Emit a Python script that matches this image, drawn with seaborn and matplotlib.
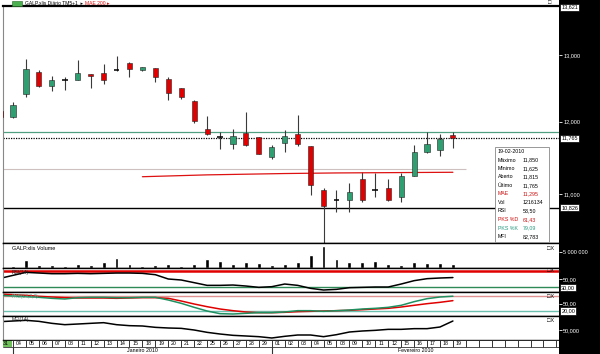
import numpy as np
import pandas as pd
import matplotlib
matplotlib.use("Agg")
import matplotlib.pyplot as plt
import seaborn as sns
from matplotlib.patches import Rectangle
from matplotlib.transforms import blended_transform_factory
from matplotlib.ticker import NullLocator

# ---------------- data ----------------
day_labels = ["31", "04", "05", "06", "07", "08", "11", "12", "13", "14", "15", "18", "19",
              "20", "21", "22", "25", "26", "27", "28", "29", "01", "02", "03", "04", "05",
              "08", "09", "10", "11", "12", "15", "16", "17", "18", "19"]
opens = [12.15, 12.07, 12.41, 12.74, 12.52, 12.62, 12.62, 12.70, 12.72, 12.77, 12.88, 12.77,
         12.80, 12.63, 12.49, 12.30, 11.89, 11.78, 11.69, 11.84, 11.78, 11.51, 11.70, 11.83,
         11.66, 11.06, 10.92, 10.92, 11.20, 11.06, 11.09, 10.96, 11.25, 11.57, 11.60, 11.815]
highs = [12.20, 12.29, 12.94, 12.77, 12.68, 12.66, 12.92, 12.70, 12.86, 12.98, 12.89, 12.82,
         12.80, 12.66, 12.50, 12.31, 12.08, 11.86, 11.90, 12.14, 11.78, 11.67, 11.88, 12.10,
         11.66, 11.08, 11.06, 11.15, 11.30, 11.28, 11.20, 11.28, 11.67, 11.85, 11.82, 11.85]
lows = [12.05, 12.06, 12.36, 12.51, 12.45, 12.47, 12.61, 12.50, 12.55, 12.76, 12.66, 12.76,
        12.58, 12.32, 12.33, 11.98, 11.81, 11.61, 11.61, 11.65, 11.54, 11.47, 11.57, 11.65,
        10.99, 10.38, 10.77, 10.77, 10.90, 10.97, 10.91, 10.90, 11.24, 11.56, 11.52, 11.625]
closes = [12.07, 12.24, 12.78, 12.52, 12.61, 12.62, 12.72, 12.67, 12.62, 12.77, 12.78, 12.81,
          12.66, 12.42, 12.36, 12.01, 11.82, 11.78, 11.79, 11.67, 11.55, 11.64, 11.80, 11.69,
          11.12, 10.85, 10.92, 11.03, 10.93, 11.06, 10.92, 11.25, 11.57, 11.69, 11.76, 11.765]
volume = [540000, 2660000, 960000, 960000, 640000, 1180000, 860000, 2020000, 3300000, 1380000,
          640000, 960000, 1180000, 740000, 1380000, 2980000, 2340000, 1180000, 2020000, 1600000,
          1060000, 1180000, 2020000, 4260000, 6940000, 2880000, 2020000, 2020000, 2140000,
          1280000, 860000, 1920000, 1700000, 1700000, 1216134]
rsi = [51.5, 58.8, 66.0, 64.4, 62.8, 62.8, 63.6, 62.8, 63.6, 64.4, 64.4, 63.6, 60.4, 50.0, 47.6,
       41.2, 34.7, 34.7, 35.5, 33.1, 29.9, 31.5, 37.9, 34.7, 27.5, 23.5, 25.1, 29.1, 29.9, 30.7,
       30.7, 37.9, 46.0, 50.8, 52.4, 53.5]
pks_k = [82.7, 80, 77.3, 74.7, 70.7, 68, 73.3, 74.7, 74.7, 73.3, 73.3, 74.7, 74.7, 64, 50.7, 34.7,
         20, 9.3, 8, 10.7, 13.3, 13.3, 16, 21.3, 21.3, 18.7, 21.3, 24, 28, 30.7, 34.7, 42.7, 57.3,
         69.3, 76, 79.09]
pks_d = [88, 85.3, 82.7, 78.7, 76, 73.3, 72, 72, 72, 70.7, 72, 73.3, 73.3, 70.7, 60, 48, 37.3, 28,
         21.3, 16, 13.3, 13.3, 14.7, 17.3, 18.7, 20, 21.3, 22.7, 25.3, 28, 30.7, 36, 42.7, 49.3,
         54.7, 61.43]
mfi = [80.3, 82.8, 85.2, 81.5, 74.3, 69.4, 71.8, 74.3, 76.7, 69.4, 65.8, 64.6, 59.7, 57.3, 56, 50,
       41.5, 35.4, 30.6, 28.2, 25.7, 20.9, 27, 31.8, 31.8, 25.7, 33, 42.7, 46.4, 48.8, 52.4, 52.4,
       54.9, 54.9, 60.9, 82.78]
mae = [11.235, 11.240, 11.245, 11.250, 11.255, 11.260, 11.263, 11.266, 11.269, 11.272, 11.275,
       11.278, 11.280, 11.282, 11.284, 11.286, 11.287, 11.288, 11.289, 11.290, 11.291, 11.292,
       11.293, 11.294, 11.295]
info_rows = [("Máximo", "11,850", "black"), ("Mínimo", "11,625", "black"),
             ("Aberto", "11,815", "black"), ("Último", "11,765", "black"),
             ("MAE", "11,295", "#cc1111"), ("Vol", "1216134", "black"),
             ("RSI", "53,50", "black"), ("PKS %D", "61,43", "#cc1111"),
             ("PKS %K", "79,09", "#2a9a80"), ("MFI", "82,783", "black")]

xs = np.arange(-1, 35)
vol_x = np.arange(0, 35)
mae_x = np.arange(10, 35)

# ---------------- figure ----------------
sns.set_theme(style="white")
plt.rcParams['font.family'] = ['Liberation Sans', 'DejaVu Sans']

W, H = 600, 354
fig = plt.figure(figsize=(6, 3.54), dpi=100, facecolor="white")
XMIN, XMAX = -0.775, 42.2
RIGHT = 559


def add_ax(t, b, l=3, r=RIGHT):
    return fig.add_axes([l / W, 1 - b / H, (r - l) / W, (b - t) / H])


def ftxt(x, y, s, **kw):
    kw.setdefault("fontsize", 4)
    kw.setdefault("va", "center")
    return fig.text(x / W, 1 - y / H, s, **kw)


fig.add_artist(Rectangle((RIGHT / W, 0), 1 - RIGHT / W, 1, transform=fig.transFigure,
                         facecolor="black", edgecolor="none", zorder=-1))

ax_main = add_ax(6, 243)
ax_vol = add_ax(243, 268)
ax_rsi = add_ax(268, 292)
ax_st = add_ax(292, 316)
ax_mfi = add_ax(316, 340)
ax_d = add_ax(340, 354)

for ax in (ax_main, ax_vol, ax_rsi, ax_st, ax_mfi):
    ax.set_facecolor("white")
    ax.set_xlim(XMIN, XMAX)
    ax.set_xticks([])
    for s in ("top", "bottom"):
        ax.spines[s].set_color("black")
        ax.spines[s].set_linewidth(1.0)
    ax.spines["left"].set_color("#888888")
    ax.spines["left"].set_linewidth(0.8)
    ax.spines["right"].set_visible(False)
    ax.yaxis.tick_right()
    ax.tick_params(axis="y", colors="white", labelcolor="white", labelsize=4, length=2,
                   width=0.6, pad=1, direction="out", right=True, left=False)
ax_main.spines["top"].set_linewidth(1.6)


def boxed(ax, val, s, yfrac=False):
    tr = blended_transform_factory(ax.transAxes, ax.transAxes if yfrac else ax.transData)
    ax.text(1.004, val, s, transform=tr, fontsize=4, color="black", va="center", ha="left",
            clip_on=False, zorder=10,
            bbox=dict(boxstyle="square,pad=0.2", fc="white", ec="black", lw=0.5))


# ---- main candlestick panel ----
ax_main.set_yscale("log")
ax_main.set_ylim(10.377, 13.786)
up_c, dn_c = "#2f9e70", "#e00000"
for x, o, h, l, c in zip(xs, opens, highs, lows, closes):
    ax_main.vlines(x, l, h, color="#3a3a3a", lw=0.8, zorder=2)
    if abs(c - o) < 0.003:
        ax_main.hlines(o, x - 0.22, x + 0.22, color="black", lw=1.1, zorder=3)
    else:
        col = up_c if c > o else dn_c
        ax_main.bar(x, abs(c - o), bottom=min(o, c), width=0.4, color=col,
                    edgecolor="#222222", linewidth=0.4, zorder=3)
ax_main.axhline(11.85, color="#4f9f80", lw=0.9, zorder=1)
ax_main.axhline(11.765, color="black", lw=0.9, ls=(0, (1, 1)), zorder=1)
ax_main.axhline(10.826, color="black", lw=1.0, zorder=1)
ax_main.hlines(11.34, XMIN, 35, color="#cfc0c0", lw=0.8, zorder=1)
sns.lineplot(x=mae_x, y=mae, ax=ax_main, color="#dd1111", lw=0.9, zorder=2)
ax_main.set_yticks([11, 12, 13])
ax_main.set_yticklabels(["11,000", "12,000", "13,000"])
ax_main.yaxis.set_minor_locator(NullLocator())
ax_main.set_xlabel("")
ax_main.set_ylabel("")
ax_main.set_xlim(XMIN, XMAX)
boxed(ax_main, 0.995, "13,621", yfrac=True)
boxed(ax_main, 11.765, "11,765")
boxed(ax_main, 10.826, "10,826")

# ---- volume panel ----
sns.barplot(x=vol_x, y=volume, native_scale=True, color="black", width=0.3,
            errorbar=None, ax=ax_vol, saturation=1)
ax_vol.set_xlim(XMIN, XMAX)
ax_vol.set_ylim(0, 8.0e6)
ax_vol.set_xticks([])
ax_vol.set_yticks([5e6])
ax_vol.set_yticklabels(["5 000 000"])
ax_vol.set_xlabel("")
ax_vol.set_ylabel("")

# ---- RSI panel ----
ax_rsi.axhline(70, color="#e00000", lw=1.8, zorder=1)
ax_rsi.axhline(30, color="#2e8b57", lw=1.0, zorder=1)
sns.lineplot(x=xs, y=rsi, ax=ax_rsi, color="black", lw=1.1, zorder=2)
ax_rsi.set_ylim(18.7, 76.5)
ax_rsi.set_yticks([50])
ax_rsi.set_yticklabels(["50,00"])
boxed(ax_rsi, 30, "30,00")

# ---- stochastic panel ----
ax_st.axhline(80, color="#e09090", lw=1.0, zorder=1)
ax_st.axhline(20, color="#6cc0b0", lw=1.0, zorder=1)
sns.lineplot(x=xs, y=pks_d, ax=ax_st, color="#e00000", lw=1.1, zorder=2)
sns.lineplot(x=xs, y=pks_k, ax=ax_st, color="#1f8f60", lw=1.1, zorder=3)
ax_st.set_ylim(0, 96)
ax_st.set_yticks([50])
ax_st.set_yticklabels(["50,00"])
boxed(ax_st, 20, "20,00")

# ---- MFI panel ----
sns.lineplot(x=xs, y=mfi, ax=ax_mfi, color="black", lw=1.1, zorder=2)
ax_mfi.set_ylim(13.6, 101)
ax_mfi.set_yticks([50])
ax_mfi.set_yticklabels(["50,000"])

for ax in (ax_rsi, ax_st, ax_mfi):
    ax.set_xlim(XMIN, XMAX)
    ax.set_xticks([])
    ax.set_xlabel("")
    ax.set_ylabel("")

# ---- date strip ----
ax_d.set_facecolor("white")
ax_d.set_xlim(XMIN, XMAX)
ax_d.set_ylim(0, 1)
ax_d.set_xticks([])
ax_d.set_yticks([])
for s in ax_d.spines.values():
    s.set_visible(False)
ax_d.axhline(1.0, color="black", lw=1.2)
ax_d.axhline(0.5, color="#333333", lw=0.6)
ax_d.add_patch(Rectangle((XMIN, 0.5), -0.05 - XMIN, 0.5, facecolor="#6fbf5a",
                         edgecolor="none"))
for i in range(-1, 43):
    ax_d.vlines(i, 0.5, 1.0, color="#333333", lw=0.7)
for x, lab in zip(xs, day_labels):
    ax_d.text(x + 0.45, 0.74, lab, fontsize=3.8, ha="center", va="center", color="black")
ax_d.vlines([0, 20], 0, 0.5, color="#333333", lw=0.8)
ax_d.text(10, 0.24, "Janeiro 2010", fontsize=3.8, ha="center", va="center", color="black")
ax_d.text(31.1, 0.24, "Fevereiro 2010", fontsize=3.8, ha="center", va="center", color="black")

# ---- header texts and panel icons ----
fig.add_artist(Rectangle((12 / W, 1 - 6 / H), 10 / W, 5 / H, transform=fig.transFigure,
                         facecolor="#4caf50", edgecolor="#226622", lw=0.4, zorder=5))
ftxt(25, 3.2, "GALP.xlis Diário TM5+1  ▸", fontsize=3.6, color="black", zorder=6)
ftxt(85, 3.2, "MAE 200 ▸", fontsize=3.6, color="#dd1111", zorder=6)
ftxt(548, 3, "□", fontsize=4, color="black", zorder=6)
ftxt(12, 248, "GALP.xlis Volume", fontsize=4, color="black", zorder=6)
ftxt(12, 272.5, "RSI(14)", fontsize=3.6, color="#222222", zorder=6)
ftxt(12, 296.5, "PKS(14,3,3)", fontsize=3.6, color="#5aa58a", zorder=6)
ftxt(12, 320, "MFI(14)", fontsize=3.6, color="#222222", zorder=6)
for yy in (248, 271, 296, 320):
    ftxt(547, yy, "□X", fontsize=4, color="black", zorder=6)

# ---- info box ----
fig.add_artist(Rectangle((495 / W, 1 - 242 / H), 54 / W, 95 / H, transform=fig.transFigure,
                         facecolor="white", edgecolor="#888888", lw=0.6, zorder=5))
ftxt(498, 151.7, "19-02-2010", fontsize=3.8, color="black", zorder=6)
for k, (lab, val, col) in enumerate(info_rows):
    yy = 160 + 8.5 * k
    ftxt(498, yy, lab, fontsize=3.8, color=col, zorder=6)
    ftxt(523, yy, val, fontsize=3.8, color=col, zorder=6)

fig.savefig("out.png", dpi=100, facecolor=fig.get_facecolor())
